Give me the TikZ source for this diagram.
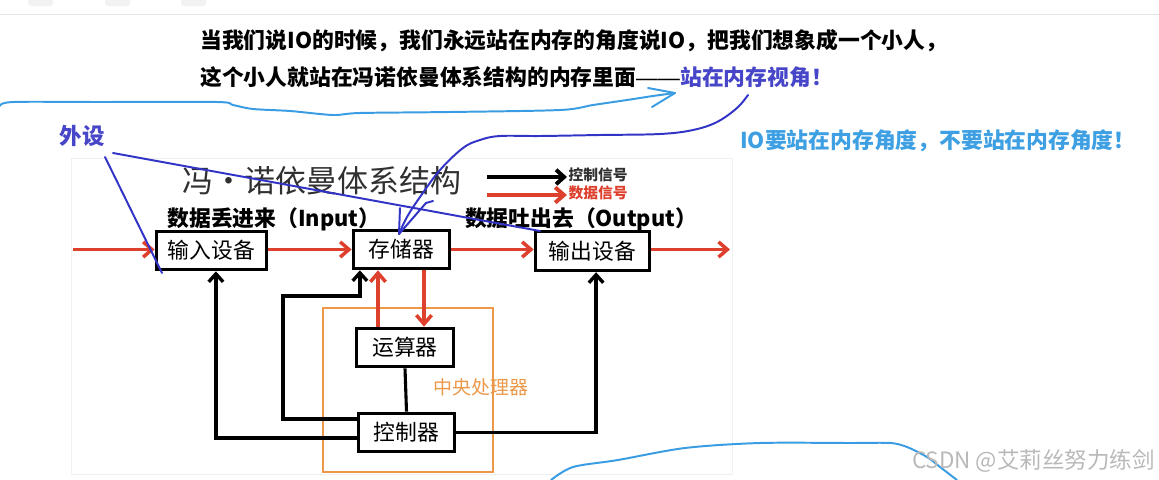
\documentclass[tikz,border=0pt]{standalone}
\usepackage{fontspec}
\setmainfont{Liberation Sans}
\newfontfamily\cjk{Noto Sans CJK SC}
\newfontfamily\latin{Liberation Sans}
\usetikzlibrary{arrows.meta,positioning,calc}
\definecolor{RojoDato}{RGB}{222,64,46}
\definecolor{NaranjaCPU}{RGB}{236,152,72}
\definecolor{AzulNota}{RGB}{72,70,200}
\definecolor{AzulTrazo}{RGB}{50,52,198}
\definecolor{CelesteNota}{RGB}{62,160,226}
\definecolor{CelesteTrazo}{RGB}{58,156,226}
\definecolor{GrisTitulo}{RGB}{48,48,48}
\tikzset{
  unidad/.style={draw=black, line width=2.6pt, fill=white, minimum width=#1,
    minimum height=0.95cm, font=\cjk\fontsize{15.5}{17}\selectfont, inner sep=0pt},
  unidad/.default=2.4cm,
  datoarr/.style={-{Straight Barb[length=2.2mm, width=3.8mm]}, line width=2.5pt, RojoDato},
  ctrlarr/.style={-{Straight Barb[length=2mm, width=3.6mm]}, line width=2.4pt, black},
  ctrllinea/.style={line width=2.2pt, black},
  nota/.style={font=\cjk\bfseries\fontsize{15.5}{17}\selectfont, inner sep=0pt},
  leyenda/.style={font=\cjk\bfseries\fontsize{10.5}{12}\selectfont, inner sep=1pt},
  trazo/.style={line width=1.4pt, line cap=round, line join=round},
}
\begin{document}
\begin{tikzpicture}[x=0.025cm, y=-0.025cm]
  \useasboundingbox (0,0) rectangle (1159,480);
  % ---- barra del navegador ----
  \draw[gray!22, line width=0.6pt] (0,14) -- (1159,14);
  \foreach \xa in {28,105,181} {
    \fill[gray!10, rounded corners=2pt] (\xa,-4) rectangle ++(25,10);
  }
  % ---- texto de arriba ----
  \node[nota, anchor=west] (linea1) at (200,41)
    {当我们说IO的时候，我们永远站在内存的角度说IO，把我们想象成一个小人，};
  \node[nota, anchor=west] (linea2) at (200,77)
    {这个小人就站在冯诺依曼体系结构的内存里面{\latin\mdseries ——}};
  \node[nota, text=AzulNota, right=0pt of linea2] (vista) {站在内存视角！};
  \node[nota, text=AzulNota, font=\cjk\bfseries\fontsize{16}{18}\selectfont] (perif) at (82,136) {外设};
  \node[nota, text=CelesteNota, anchor=west] (regla) at (740,141)
    {IO要站在内存角度，不要站在内存角度！};

  % ---- diagrama ----
  \draw[gray!12, line width=0.5pt] (71,158) rectangle (732,474);
  \node[font=\cjk\fontsize{22}{24}\selectfont, text=GrisTitulo, inner sep=0pt] (titulo) at (322,181)
    {冯・诺依曼体系结构};
  \coordinate (leyc) at (487,177);
  \coordinate (leyd) at (487,195);
  \node[leyenda, anchor=west, text=GrisTitulo] (leyctxt) at (567,175) {控制信号};
  \node[leyenda, anchor=west, text=RojoDato] (leydtxt) at (567,193) {数据信号};
  \draw[ctrlarr, line width=2.8pt] (leyc) -- (leyc -| leyctxt.west);
  \draw[datoarr, line width=2.8pt] (leyd) -- (leyd -| leydtxt.west);

  \node[nota] (entra) at (274,219) {数据丢进来（Input）};
  \node[nota] (sale) at (581,219) {数据吐出去（Output）};

  \node[draw=NaranjaCPU, line width=1.3pt, minimum width=4.25cm, minimum height=4.1cm] (cpu) at (408,390) {};
  \node[font=\cjk\fontsize{13.5}{15}\selectfont, text=NaranjaCPU, inner sep=0pt] (cputxt) at (481,387) {中央处理器};

  \node[unidad=2.75cm] (entrada) at (211.5,250.5) {输入设备};
  \node[unidad=2.4cm] (memoria) at (401.5,249.5) {存储器};
  \node[unidad=2.85cm, minimum height=0.97cm] (salida) at (592.5,251) {输出设备};
  \node[unidad=2.43cm] (alu) at (405,347.5) {运算器};
  \node[unidad=2.4cm] (control) at (406.5,432.5) {控制器};

  % flujo de datos
  \coordinate (inicio) at (73,249.5);
  \coordinate (fin) at (730,249.5);
  \draw[datoarr] (inicio) -- (inicio -| entrada.west);
  \draw[datoarr] (entrada.east |- inicio) -- (memoria.west |- inicio);
  \draw[datoarr] (memoria.east |- inicio) -- (salida.west |- inicio);
  \draw[datoarr] (salida.east |- inicio) -- (fin);
  \coordinate (xsube) at (378,0);
  \coordinate (xbaja) at (424,0);
  \draw[datoarr] (alu.north -| xsube) -- (memoria.south -| xsube);
  \draw[datoarr] (memoria.south -| xbaja) -- (alu.north -| xbaja);

  % senales de control
  \coordinate (codo) at (283,296);
  \draw[ctrlarr] ([yshift=0.34cm]control.west) -| (codo) -| ([xshift=-1.04cm]memoria.south);
  \draw[ctrlarr] ([yshift=-0.14cm]control.west) -| ([xshift=0.11cm]entrada.south);
  \draw[ctrlarr] (control.east) -| ([xshift=0.09cm]salida.south);
  \draw[ctrllinea] (alu.south) -- (control.north);

  % ---- trazos a mano ----
  \draw[trazo, AzulTrazo] (113,153) -- (540,231);
  \draw[trazo, AzulTrazo] (105,157) -- (162,273);
  \draw[trazo, AzulTrazo] plot[smooth, tension=0.6] coordinates {(748,95) (737,108) (717,122)
    (693,130) (660,134) (600,135) (540,136) (500,136) (480,140) (463,148) (440,170) (420,197)
    (407,217) (399,234)};
  \draw[trazo, AzulTrazo] (400,208) -- (399,234);
  \draw[trazo, AzulTrazo] (433,201) -- (426,203) -- (399,234);
  \draw[trazo, CelesteTrazo] plot[smooth, tension=0.5] coordinates {(0,106) (13,102) (100,102)
    (217,102) (233,105) (253,109) (290,111) (333,115) (360,113) (450,112) (560,110) (593,105)
    (627,100) (653,96) (675,93)};
  \draw[trazo, CelesteTrazo] (648,88) -- (675,93) -- (652,107);
  \draw[trazo, CelesteTrazo] plot[smooth, tension=0.5] coordinates {(551,480) (573,467) (618,460)
    (685,448) (760,443) (850,443) (890,443) (907,447) (927,457) (940,467) (957,480)};

  % marca de agua
  \node[font=\cjk\fontsize{16}{18}\selectfont, text=gray!55, anchor=east, inner sep=0pt] (marca) at (1155,461)
    {CSDN @艾莉丝努力练剑};
\end{tikzpicture}
\end{document}
